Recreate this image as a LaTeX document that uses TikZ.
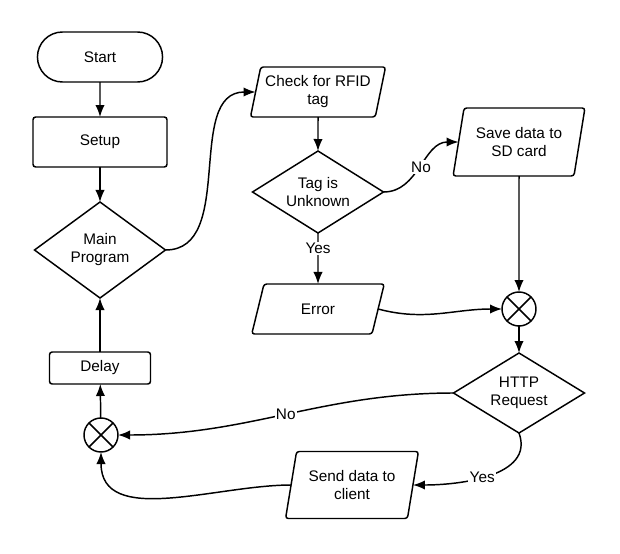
\documentclass[tikz,border=0pt]{standalone}
\usepackage{fontspec}
\setmainfont{Liberation Sans}
\usetikzlibrary{shapes.geometric,shapes.misc,arrows.meta}

\begin{document}
\begin{tikzpicture}[
	x=0.75pt, y=-0.75pt,
	line width=1.1pt,
	every node/.style={outer sep=0pt, align=center,
		font=\fontsize{11.5}{13.5}\selectfont},
	terminal/.style={rounded rectangle, draw, minimum width=100.5pt, minimum height=37.5pt},
	process/.style={rectangle, draw, rounded corners=2pt,
		minimum width=100.5pt, minimum height=37.5pt},
	decision/.style={diamond, draw, aspect=1.5, inner sep=0pt, minimum width=98.25pt},
	io/.style={trapezium, draw, trapezium left angle=76, trapezium right angle=104,
		trapezium stretches=true, rounded corners=2pt,
		minimum width=99.75pt, minimum height=37.5pt},
	joinmark/.style={circle, draw, minimum size=25.5pt, inner sep=0pt},
	answer/.style={fill=white, inner sep=1pt},
	flow/.style={-{Latex[length=9pt,width=7pt]}},
]
\useasboundingbox (0,0) rectangle (620,553);
% \junction(name)(x,y): circle with a cross in it.
\def\junction(#1)(#2){
	\node[joinmark] (#1) at (#2) {};
	\draw (#1.45) -- (#1.225) (#1.135) -- (#1.315);
}
	\node[terminal] (start) at (100,57) {Start};
	\node[process] (setup) at (100,142) {Setup};
	\node[decision, minimum height=72pt] (main) at (100,250) {Main\\Program};
	\node[process, minimum width=75.75pt, minimum height=24pt] (delay) at (100,368) {Delay};
	\junction(jl)(101,435)

	\node[io] (check) at (318,92) {Check for RFID\\tag};
	\node[decision, minimum height=61.5pt] (tag) at (318,192) {Tag is\\Unknown};
	\node[io] (error) at (318,309) {Error};

	\node[io, minimum height=51pt] (save) at (519,142) {Save data to\\SD card};
	\junction(jr)(519,309)
	\node[decision, minimum height=60pt] (http) at (519,393) {HTTP\\Request};
	\node[io, minimum height=50.25pt] (send) at (352,485) {Send data to\\client};

	\draw[flow] (start) -- (setup);
	\draw[flow] (setup) -- (main);
	\draw[flow] (main.east) to[out=0, in=180] (check.west);
	\draw[flow] (check) -- (tag);
	\draw[flow] (tag.east) to[out=0, in=180] node[answer] {No} (save.west);
	\draw[flow] (tag) -- node[answer, pos=0.3] {Yes} (error);
	\draw[flow] (save) -- (jr);
	\draw[flow] (error.east) to[out=-15, in=180] (jr.west);
	\draw[flow] (jr) -- (http);
	\draw[flow] (http.west) to[out=180, in=0] node[answer] {No} (jl.east);
	\draw[flow] (http.south) to[out=-70, in=0] node[answer, pos=0.55] {Yes} (send.east);
	\draw[flow] (send.west) to[out=180, in=-90] (jl.south);
	\draw[flow] (jl) -- (delay);
	\draw[flow] (delay) -- (main);
\end{tikzpicture}
\end{document}
